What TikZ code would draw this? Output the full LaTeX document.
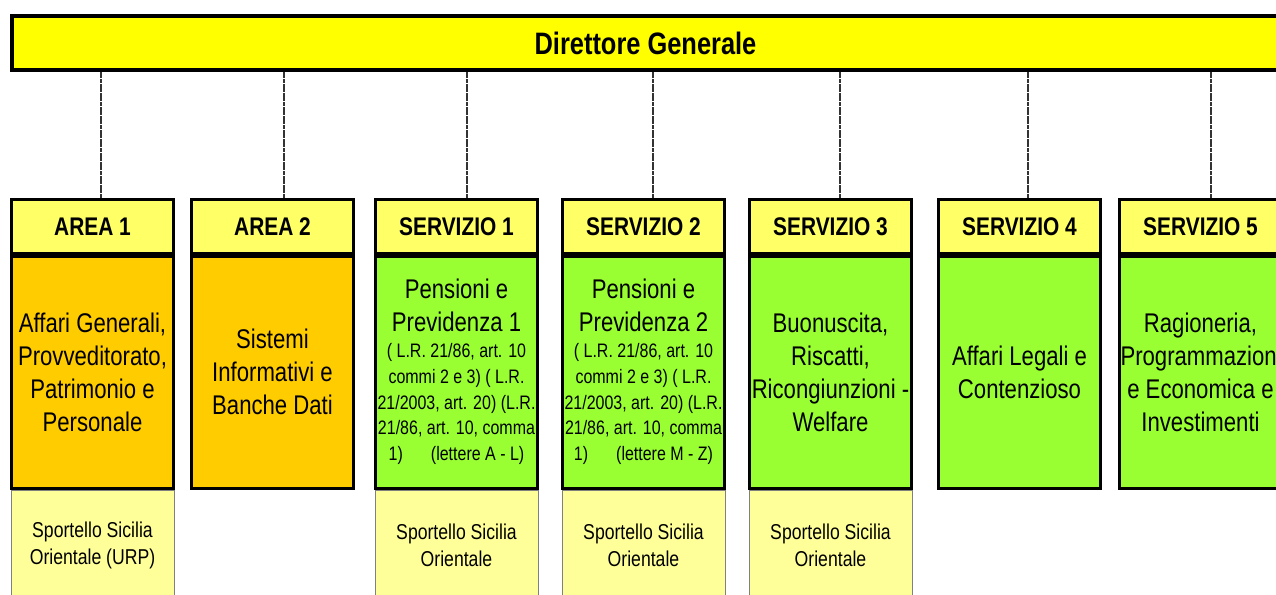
\documentclass[tikz,border=0pt]{standalone}
\usepackage{fontspec}
\setmainfont{Liberation Sans}[FakeStretch=0.82]
\usetikzlibrary{backgrounds}

\definecolor{dgyellow}{HTML}{FFFF00}
\definecolor{headyellow}{HTML}{FFFF66}
\definecolor{areaorange}{HTML}{FFCC00}
\definecolor{servgreen}{HTML}{99FF33}
\definecolor{deskyellow}{HTML}{FFFF99}

\newcommand{\bigtxt}{\fontsize{27}{33}\selectfont}
\newcommand{\smalltxt}{\fontsize{19.5}{25.8}\selectfont}
\newcommand{\desktxt}{\fontsize{21.5}{27}\selectfont}

\begin{document}
\begin{tikzpicture}[x=1pt,y=-1pt,
  topbox/.style={draw=black, line width=4pt, fill=dgyellow, minimum width=1267pt,
    minimum height=54pt, font=\bfseries\fontsize{31}{36}\selectfont},
  head/.style={draw=black, line width=3pt, fill=headyellow, minimum width=162pt,
    minimum height=53.5pt, anchor=north west, font=\bfseries\fontsize{25.5}{30}\selectfont},
  unit/.style={draw=black, line width=3pt, minimum width=162pt, minimum height=232pt,
    text width=160pt, inner sep=1pt, align=flush center, anchor=north, font=\bigtxt},
  area/.style={unit, fill=areaorange},
  serv/.style={unit, fill=servgreen},
  desk/.style={draw=black!50, line width=1pt, fill=deskyellow, minimum width=163pt,
    minimum height=110pt, text width=156pt, align=flush center, anchor=north, font=\desktxt},
  link/.style={draw=black!80, line width=2pt, dash pattern=on 4pt off 0.6pt}]
\clip (0,0) rectangle (1276,594);

\node[topbox, anchor=north west] (dg) at (10,14) {Direttore Generale};

% intestazioni
\node[head] (a1) at (10,198) {AREA 1};
\node[head] (a2) at (190,198) {AREA 2};
\node[head] (s1) at (374,198) {SERVIZIO 1};
\node[head] (s2) at (561,198) {SERVIZIO 2};
\node[head] (s3) at (748,198) {SERVIZIO 3};
\node[head] (s4) at (937,198) {SERVIZIO 4};
\node[head] (s5) at (1118,198) {SERVIZIO 5};

% competenze
\node[area] (a1b) at (a1.south) {Affari Generali,\\ Provveditorato,\\ Patrimonio e\\ Personale};
\node[area] (a2b) at (a2.south) {Sistemi\\ Informativi e\\ Banche Dati};
\node[serv] (s1b) at (s1.south) {Pensioni e\\ Previdenza 1\par
  \smalltxt ( L.R. 21/86, art. 10\\ commi 2 e 3) ( L.R.\\ 21/2003, art. 20) (L.R.\\
  21/86, art. 10, comma\\ 1)\hspace*{28pt}(lettere A - L)\par};
\node[serv] (s2b) at (s2.south) {Pensioni e\\ Previdenza 2\par
  \smalltxt ( L.R. 21/86, art. 10\\ commi 2 e 3) ( L.R.\\ 21/2003, art. 20) (L.R.\\
  21/86, art. 10, comma\\ 1)\hspace*{28pt}(lettere M - Z)\par};
\node[serv] (s3b) at (s3.south) {Buonuscita,\\ Riscatti,\\ Ricongiunzioni -\\ Welfare};
\node[serv] (s4b) at (s4.south) {Affari Legali e\\ Contenzioso};
\node[serv] (s5b) at (s5.south) {Ragioneria,\\ Programmazione\\ e Economica e\\ Investimenti};

% sportelli
\begin{scope}[on background layer]
\node[desk] (a1d) at (a1b.south) {Sportello Sicilia\\ Orientale (URP)};
\node[desk] (s1d) at (s1b.south) {Sportello Sicilia\\ Orientale};
\node[desk] (s2d) at (s2b.south) {Sportello Sicilia\\ Orientale};
\node[desk] (s3d) at (s3b.south) {Sportello Sicilia\\ Orientale};
\end{scope}

\foreach \n/\dx in {a1/8.5, a2/11, s1/10, s2/9, s3/9.5, s4/8, s5/10.5}
  \draw[link] ([xshift=\dx pt]\n.north) -- ([xshift=\dx pt]\n.north |- dg.south);
\end{tikzpicture}
\end{document}
